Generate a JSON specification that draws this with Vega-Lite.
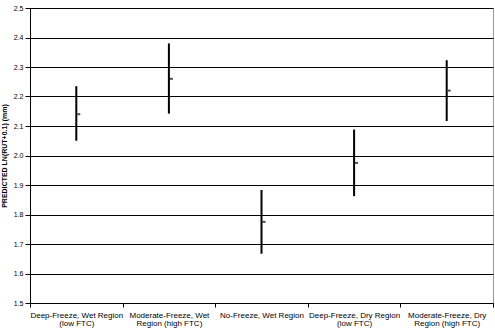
{
  "$schema": "https://vega.github.io/schema/vega-lite/v6.json",
  "width": 463,
  "height": 295,
  "autosize": "none",
  "padding": {"left": 30, "top": 8, "right": 2, "bottom": 27},
  "background": "white",
  "config": {
    "font": "Liberation Sans",
    "view": {"stroke": "#999999", "strokeWidth": 1}
  },
  "data": {
    "values": [
      {"region": "Deep-Freeze, Wet Region\n(low FTC)", "low": 2.05, "mean": 2.14, "high": 2.235},
      {"region": "Moderate-Freeze, Wet\nRegion (high FTC)", "low": 2.142, "mean": 2.26, "high": 2.38},
      {"region": "No-Freeze, Wet Region", "low": 1.667, "mean": 1.775, "high": 1.883},
      {"region": "Deep-Freeze, Dry Region\n(low FTC)", "low": 1.862, "mean": 1.975, "high": 2.088},
      {"region": "Moderate-Freeze, Dry\nRegion (high FTC)", "low": 2.117, "mean": 2.22, "high": 2.323}
    ]
  },
  "encoding": {
    "x": {
      "field": "region",
      "type": "nominal",
      "sort": null,
      "scale": {"paddingInner": 0, "paddingOuter": 0},
      "axis": {
        "title": null,
        "tickBand": "extent",
        "labelAngle": 0,
        "labelExpr": "split(datum.label, '\\n')",
        "labelFontSize": 8,
        "labelLineHeight": 8.5,
        "labelColor": "black",
        "labelPadding": 4,
        "tickColor": "black",
        "tickSize": 4,
        "domainColor": "black",
        "grid": false
      }
    },
    "y": {
      "field": "low",
      "type": "quantitative",
      "scale": {"domain": [1.5, 2.5], "nice": false, "zero": false},
      "axis": {
        "title": "PREDICTED LN(RUT+0.1) (mm)",
        "titleFontSize": 7,
        "titleFontWeight": "bold",
        "titleColor": "black",
        "titlePadding": 6,
        "tickCount": 12,
        "values": [1.5, 1.6, 1.7, 1.8, 1.9, 2.0, 2.1, 2.2, 2.3, 2.4, 2.5],
        "labelOverlap": false,
        "format": ".1f",
        "labelFontSize": 7,
        "labelColor": "black",
        "labelPadding": 2,
        "tickSize": 5,
        "tickColor": "black",
        "domainColor": "black",
        "grid": true,
        "gridColor": "black",
        "gridWidth": 1,
        "gridOpacity": 1
      }
    }
  },
  "layer": [
    {
      "mark": {"type": "rule", "color": "black", "strokeWidth": 2},
      "encoding": {
        "y2": {"field": "high"}
      }
    },
    {
      "mark": {"type": "tick", "orient": "horizontal", "color": "black", "size": 3, "thickness": 2, "xOffset": 2.5},
      "encoding": {
        "y": {"field": "mean", "type": "quantitative"}
      }
    }
  ]
}
